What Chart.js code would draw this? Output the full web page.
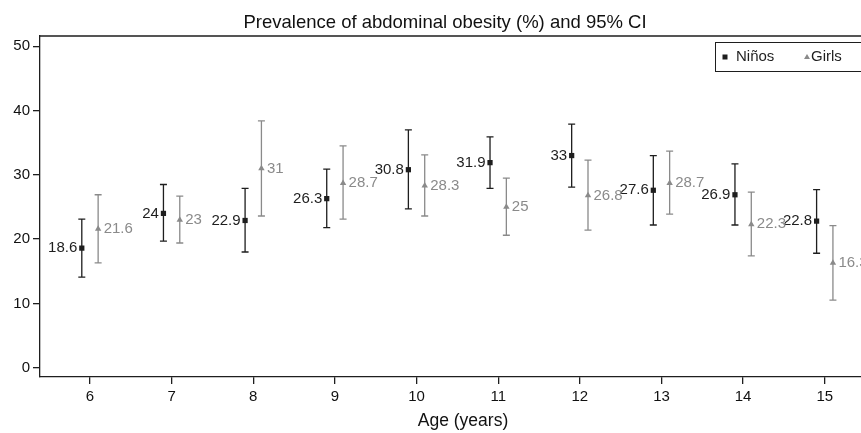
<!DOCTYPE html>
<html>
<head>
<meta charset="utf-8">
<script src="https://cdn.jsdelivr.net/npm/chart.js@4"></script>
<style>
  html, body { margin: 0; padding: 0; background: #fff; overflow: hidden; }
  #wrap { position: relative; width: 890px; height: 433px; }
</style>
</head>
<body>
<div id="wrap"><canvas id="chart"></canvas></div>
<script>
const ages = [6, 7, 8, 9, 10, 11, 12, 13, 14, 15];
const boys = [18.6, 24, 22.9, 26.3, 30.8, 31.9, 33, 27.6, 26.9, 22.8];
const boysLow = [14.1, 19.7, 18.0, 21.8, 24.7, 27.9, 28.1, 22.2, 22.2, 17.8];
const boysHigh = [23.1, 28.5, 27.9, 30.9, 37.0, 35.9, 37.9, 33.0, 31.7, 27.7];
const girls = [21.6, 23, 31, 28.7, 28.3, 25, 26.8, 28.7, 22.3, 16.3];
const girlsLow = [16.3, 19.4, 23.6, 23.1, 23.6, 20.6, 21.4, 23.9, 17.4, 10.5];
const girlsHigh = [26.9, 26.7, 38.4, 34.5, 33.1, 29.5, 32.3, 33.7, 27.3, 22.1];
const xTicks = [6, 7, 8, 9, 10, 11, 12, 13, 14, 15];
const yTicks = [0, 10, 20, 30, 40, 50];

const FONT = '"Liberation Sans", Arial, Helvetica, sans-serif';
const BOY_COLOR = '#1e1e1e';
const GIRL_COLOR = '#8a8a8a';
const SHIFT = 0.1;

function makePoints(vals, lo, hi, dx) {
    return ages.map((a, i) => ({ x: a + dx, y: vals[i], lo: lo[i], hi: hi[i] }));
}

// error bars + value labels
const ciPlugin = {
    id: 'ci',
    beforeDatasetsDraw(chart) {
        const ctx = chart.ctx;
        const xs = chart.scales.x, ys = chart.scales.y;
        chart.data.datasets.forEach((ds) => {
            ctx.save();
            ctx.strokeStyle = ds.borderColor;
            ctx.lineWidth = 1.3;
            ds.data.forEach((p) => {
                const x = xs.getPixelForValue(p.x);
                const y1 = ys.getPixelForValue(p.lo);
                const y2 = ys.getPixelForValue(p.hi);
                ctx.beginPath();
                ctx.moveTo(x, y1); ctx.lineTo(x, y2);
                ctx.moveTo(x - 3.5, y1); ctx.lineTo(x + 3.5, y1);
                ctx.moveTo(x - 3.5, y2); ctx.lineTo(x + 3.5, y2);
                ctx.stroke();
            });
            ctx.restore();
        });
    },
    afterDatasetsDraw(chart) {
        const ctx = chart.ctx;
        const xs = chart.scales.x, ys = chart.scales.y;
        ctx.save();
        ctx.font = '15px ' + FONT;
        ctx.textBaseline = 'middle';
        chart.data.datasets.forEach((ds, di) => {
            ctx.fillStyle = ds.borderColor;
            ctx.textAlign = di === 0 ? 'right' : 'left';
            ds.data.forEach((p) => {
                const x = xs.getPixelForValue(p.x);
                const y = ys.getPixelForValue(p.y);
                ctx.fillText(String(p.y), di === 0 ? x - 4.5 : x + 5.5, y);
            });
        });
        ctx.restore();
    },
    afterDraw(chart) {
        const ctx = chart.ctx;
        const a = chart.chartArea;
        ctx.save();
        ctx.strokeStyle = '#1e1e1e';
        ctx.lineWidth = 1.3;
        ctx.beginPath();
        ctx.moveTo(a.left, a.top); ctx.lineTo(a.right, a.top); ctx.lineTo(a.right, a.bottom);
        ctx.stroke();

        // legend box
        const bx = 715, by = 42, bw = 200, bh = 29;
        ctx.lineWidth = 1;
        ctx.fillStyle = '#fff';
        ctx.fillRect(bx, by, bw, bh);
        ctx.strokeRect(bx + 0.5, by + 0.5, bw, bh);
        ctx.font = '15px ' + FONT;
        ctx.textBaseline = 'middle';
        ctx.textAlign = 'left';
        const cy = by + bh / 2 + 0.5;
        ctx.fillStyle = BOY_COLOR;
        ctx.fillRect(722.5, cy - 2.5, 5, 5);
        ctx.fillText('Niños', 736, cy);
        ctx.fillStyle = GIRL_COLOR;
        ctx.beginPath();
        ctx.moveTo(807, cy - 3); ctx.lineTo(810, cy + 2); ctx.lineTo(804, cy + 2);
        ctx.closePath(); ctx.fill();
        ctx.fillStyle = BOY_COLOR;
        ctx.fillText('Girls', 811, cy);
        ctx.restore();
    }
};

const axisStyle = {
    grid: { display: true, drawOnChartArea: false, drawTicks: true, tickLength: 7, color: '#1e1e1e', lineWidth: 1.3 },
    border: { display: true, color: '#1e1e1e', width: 1.3 },
};

new Chart(document.getElementById('chart'), {
    type: 'scatter',
    data: {
        datasets: [{
            label: 'Niños',
            data: makePoints(boys, boysLow, boysHigh, -SHIFT),
            borderColor: BOY_COLOR,
            backgroundColor: BOY_COLOR,
            pointStyle: 'rect',
            pointRadius: 3.7,
            pointBorderWidth: 0,
        }, {
            label: 'Girls',
            data: makePoints(girls, girlsLow, girlsHigh, SHIFT),
            borderColor: GIRL_COLOR,
            backgroundColor: GIRL_COLOR,
            pointStyle: 'triangle',
            pointRadius: 3.7,
            pointBorderWidth: 0,
        }]
    },
    options: {
        responsive: true,
        maintainAspectRatio: false,
        animation: false,
        layout: { padding: { left: 0, right: 0, top: 0, bottom: 0 } },
        scales: {
            x: {
                type: 'linear',
                min: 5.388,
                max: 15.75,
                afterBuildTicks: (s) => { s.ticks = xTicks.map(v => ({ value: v })); },
                afterFit: (s) => { s.height = 56; },
                ticks: { color: '#111', font: { family: FONT, size: 15 }, padding: 4, autoSkip: false, maxRotation: 0 },
                title: { display: true, text: 'Age (years)', color: '#111', font: { family: FONT, size: 17.5 }, padding: { top: 0, bottom: 1 } },
                ...axisStyle,
            },
            y: {
                min: -1.45,
                max: 51.6,
                afterBuildTicks: (s) => { s.ticks = yTicks.map(v => ({ value: v })); },
                afterFit: (s) => { s.width = 40; },
                ticks: { color: '#111', font: { family: FONT, size: 15 }, padding: 3 },
                ...axisStyle,
            }
        },
        plugins: {
            legend: { display: false },
            tooltip: { enabled: false },
            title: {
                display: true,
                text: 'Prevalence of abdominal obesity (%) and 95% CI',
                color: '#111',
                font: { family: FONT, size: 18.5, weight: 'normal' },
                padding: { top: 11.5, bottom: 2.3 }
            }
        }
    },
    plugins: [ciPlugin]
});
</script>
</body>
</html>
